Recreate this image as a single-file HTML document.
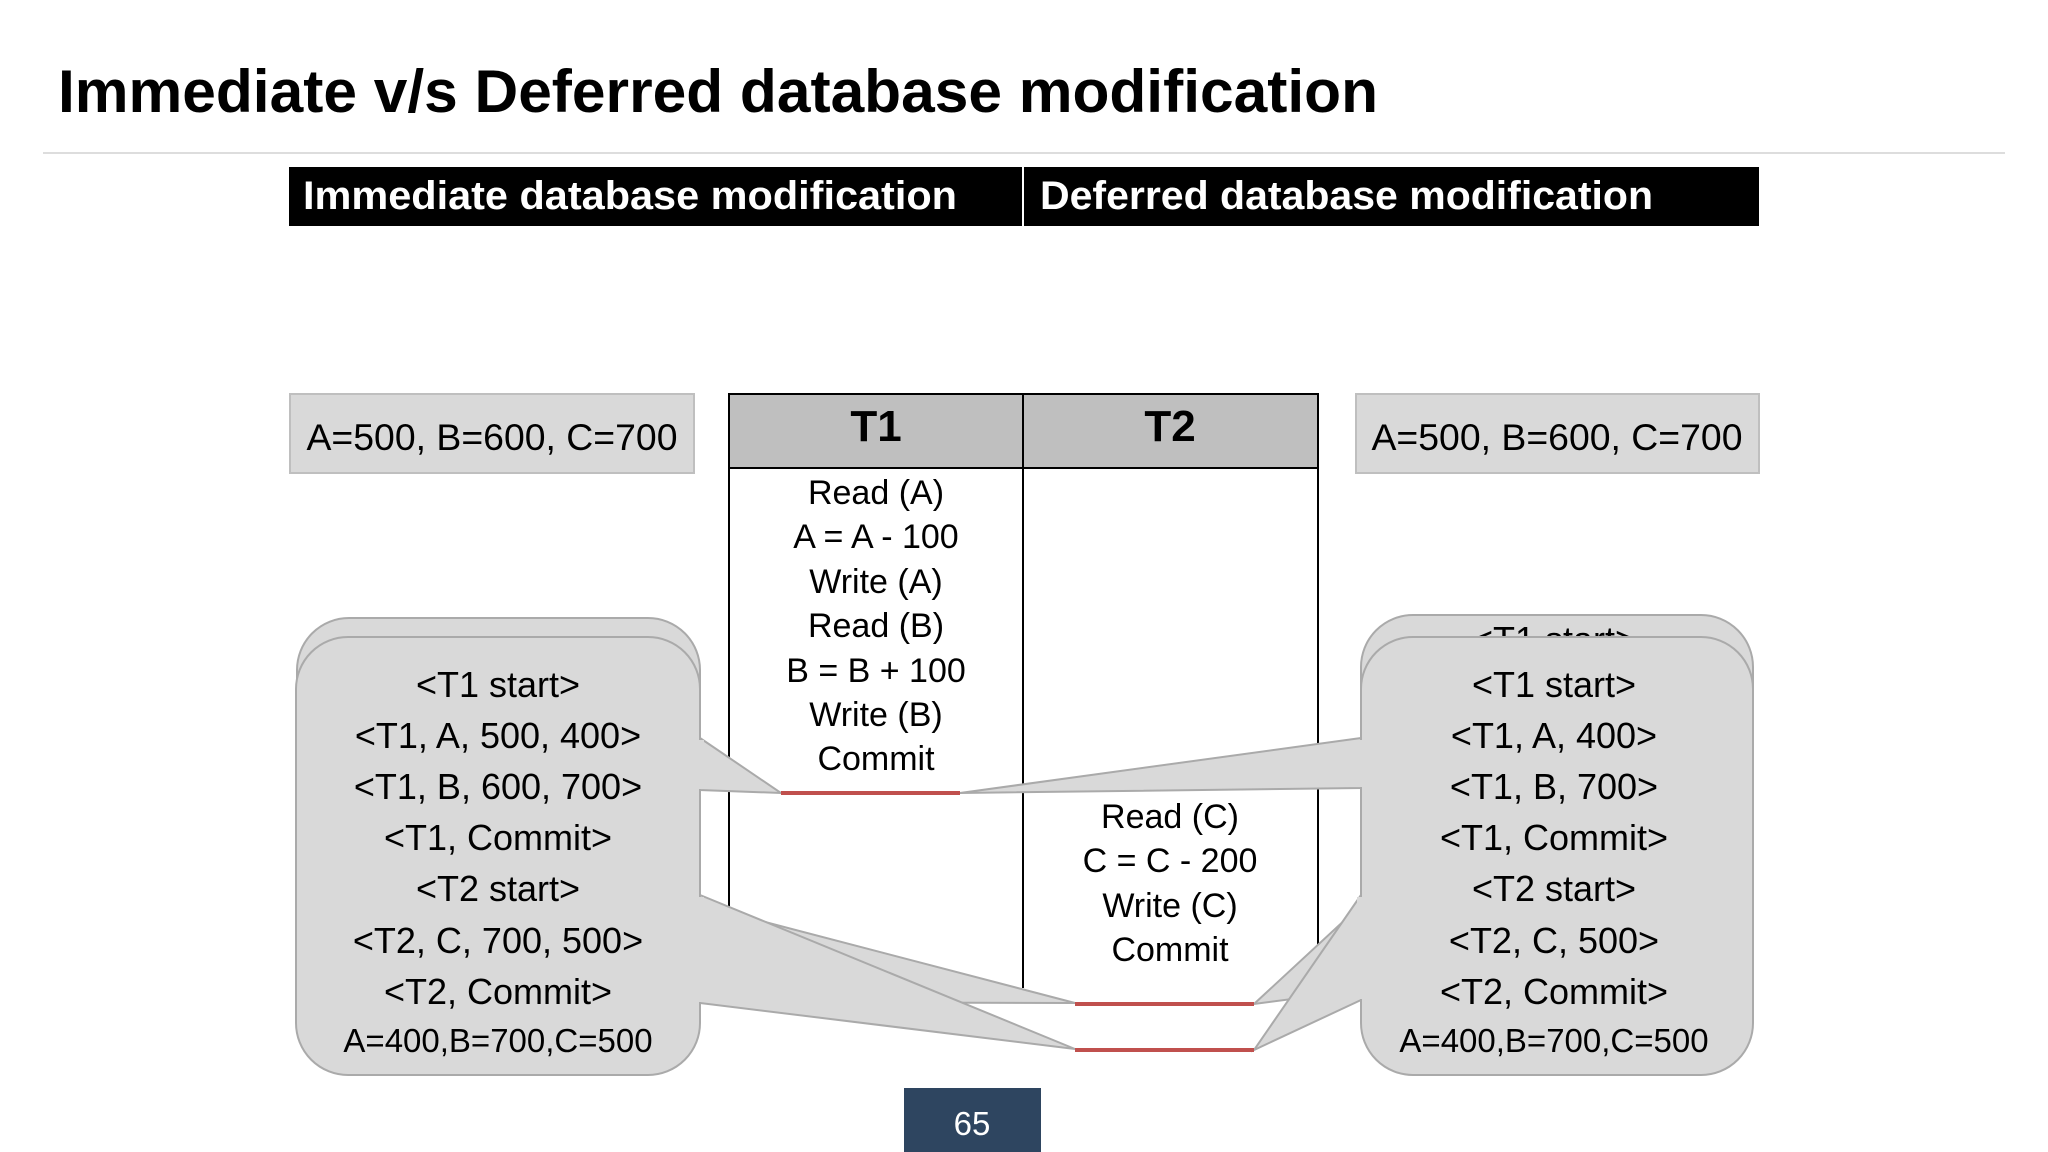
<!DOCTYPE html>
<html><head><meta charset="utf-8"><style>html,body{margin:0;padding:0;background:#fff}svg{display:block}</style></head>
<body>
<svg width="2048" height="1152" viewBox="0 0 2048 1152" xmlns="http://www.w3.org/2000/svg" font-family="Liberation Sans, sans-serif">
<rect width="2048" height="1152" fill="#fff"/>
<text x="58" y="112" font-size="60" font-weight="bold" fill="#000" textLength="1320" lengthAdjust="spacingAndGlyphs">Immediate v/s Deferred database modification</text>
<line x1="43" y1="153" x2="2005" y2="153" stroke="#ddd" stroke-width="2"/>
<rect x="289" y="167" width="1470" height="59" fill="#000"/>
<line x1="1023" y1="167" x2="1023" y2="226" stroke="#fff" stroke-width="2"/>
<text x="303" y="209" font-size="40" font-weight="bold" fill="#fff" textLength="654" lengthAdjust="spacingAndGlyphs">Immediate database modification</text>
<text x="1040" y="209" font-size="40" font-weight="bold" fill="#fff" textLength="613" lengthAdjust="spacingAndGlyphs">Deferred database modification</text>
<rect x="290" y="394" width="404" height="79" fill="#d9d9d9" stroke="#bfbfbf" stroke-width="2"/>
<text x="492" y="450" font-size="37" text-anchor="middle" textLength="371" lengthAdjust="spacingAndGlyphs">A=500, B=600, C=700</text>
<rect x="1356" y="394" width="403" height="79" fill="#d9d9d9" stroke="#bfbfbf" stroke-width="2"/>
<text x="1557" y="450" font-size="37" text-anchor="middle" textLength="371" lengthAdjust="spacingAndGlyphs">A=500, B=600, C=700</text>
<!-- table -->
<rect x="729" y="394" width="589" height="74" fill="#bfbfbf" stroke="#000" stroke-width="2"/>
<line x1="729" y1="394" x2="729" y2="1000" stroke="#000" stroke-width="2"/>
<line x1="1023" y1="394" x2="1023" y2="988" stroke="#000" stroke-width="2"/>
<line x1="1318" y1="394" x2="1318" y2="1000" stroke="#000" stroke-width="2"/>
<text x="876" y="441" font-size="44" font-weight="bold" text-anchor="middle">T1</text>
<text x="1170" y="441" font-size="44" font-weight="bold" text-anchor="middle">T2</text>
<g font-size="34" text-anchor="middle" fill="#000">
<text x="876" y="504">Read (A)</text>
<text x="876" y="548">A = A - 100</text>
<text x="876" y="593">Write (A)</text>
<text x="876" y="637">Read (B)</text>
<text x="876" y="682">B = B + 100</text>
<text x="876" y="726">Write (B)</text>
<text x="876" y="770">Commit</text>
<text x="1170" y="828">Read (C)</text>
<text x="1170" y="872">C = C - 200</text>
<text x="1170" y="917">Write (C)</text>
<text x="1170" y="961">Commit</text>
</g>
<!-- back callouts -->
<g fill="#d9d9d9" stroke="#aaa" stroke-width="2">
<polygon points="700,905 1075,1003 700,1002"/>
<rect x="297" y="618" width="403" height="420" rx="52"/>
<polygon points="1361,905 1254,1004 1361,990"/>
<rect x="1361" y="615" width="392" height="420" rx="52"/>
</g>
<text x="1554" y="652" font-size="36" text-anchor="middle">&lt;T1 start&gt;</text>
<!-- front callouts -->
<g fill="#d9d9d9" stroke="#aaa" stroke-width="2">
<polygon points="700,738 781,793 700,790"/>
<polygon points="700,895 1075,1049 700,1003"/>
<rect x="296" y="637" width="404" height="438" rx="52"/>
<polygon points="1361,738 960,793 1361,788"/>
<polygon points="1361,895 1254,1050 1361,1000"/>
<rect x="1361" y="637" width="392" height="438" rx="52"/>
</g>
<g fill="#d9d9d9">
<rect x="690" y="740" width="14" height="49"/>
<rect x="690" y="897" width="14" height="105"/>
<rect x="1357" y="740" width="14" height="47"/>
<rect x="1357" y="897" width="14" height="102"/>
</g>
<line x1="781" y1="793" x2="960" y2="793" stroke="#c0504d" stroke-width="4"/>
<line x1="1075" y1="1004" x2="1254" y2="1004" stroke="#c0504d" stroke-width="4"/>
<line x1="1075" y1="1050" x2="1254" y2="1050" stroke="#c0504d" stroke-width="4"/>
<g font-size="36" text-anchor="middle" fill="#000">
<text x="498" y="697">&lt;T1 start&gt;</text>
<text x="498" y="748">&lt;T1, A, 500, 400&gt;</text>
<text x="498" y="799">&lt;T1, B, 600, 700&gt;</text>
<text x="498" y="850">&lt;T1, Commit&gt;</text>
<text x="498" y="901">&lt;T2 start&gt;</text>
<text x="498" y="953">&lt;T2, C, 700, 500&gt;</text>
<text x="498" y="1004">&lt;T2, Commit&gt;</text>
<text x="498" y="1052" font-size="33">A=400,B=700,C=500</text>
<text x="1554" y="697">&lt;T1 start&gt;</text>
<text x="1554" y="748">&lt;T1, A, 400&gt;</text>
<text x="1554" y="799">&lt;T1, B, 700&gt;</text>
<text x="1554" y="850">&lt;T1, Commit&gt;</text>
<text x="1554" y="901">&lt;T2 start&gt;</text>
<text x="1554" y="953">&lt;T2, C, 500&gt;</text>
<text x="1554" y="1004">&lt;T2, Commit&gt;</text>
<text x="1554" y="1052" font-size="33">A=400,B=700,C=500</text>
</g>
<rect x="904" y="1088" width="137" height="64" fill="#2e4560"/>
<text x="972" y="1135" font-size="33" fill="#fff" text-anchor="middle">65</text>
</svg>
</body></html>
